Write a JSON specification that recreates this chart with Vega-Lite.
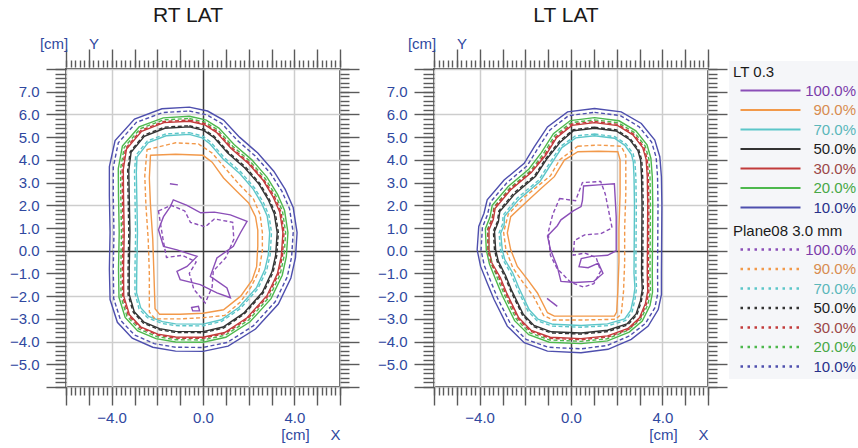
{
"$schema": "https://vega.github.io/schema/vega-lite/v6.json",
"background": "white",
"padding": {"left": 8, "top": 4, "right": 0, "bottom": 0},
"config": {
  "font": "Liberation Sans",
  "view": {"stroke": "#555555", "strokeWidth": 2},
  "axis": {"domain": false, "tickColor": "#5a5a5a", "tickWidth": 1.4, "labelFont": "Liberation Sans", "labelFontSize": 15, "labelColor": "#2f48a0", "titleFont": "Liberation Sans", "titleFontSize": 15, "titleFontWeight": "normal", "titleColor": "#2f48a0", "grid": false, "labelOverlap": false, "labelFlush": false},
  "title": {"font": "Liberation Sans", "fontSize": 21, "fontWeight": "normal", "color": "#1a1a1a"}
},
"datasets": {
"rs": [
{"l":"10.0%","x":-0.6,"y":6.32},{"l":"10.0%","x":0.2,"y":6.15},{"l":"10.0%","x":0.9,"y":5.75},{"l":"10.0%","x":1.6,"y":5.0},{"l":"10.0%","x":2.4,"y":4.3},{"l":"10.0%","x":3.1,"y":3.5},{"l":"10.0%","x":3.6,"y":2.7},{"l":"10.0%","x":3.95,"y":1.9},{"l":"10.0%","x":4.12,"y":0.8},{"l":"10.0%","x":4.05,"y":-0.3},{"l":"10.0%","x":3.85,"y":-1.2},{"l":"10.0%","x":3.3,"y":-2.35},{"l":"10.0%","x":2.3,"y":-3.45},{"l":"10.0%","x":1.1,"y":-4.2},{"l":"10.0%","x":0.0,"y":-4.43},{"l":"10.0%","x":-1.2,"y":-4.42},{"l":"10.0%","x":-2.2,"y":-4.25},{"l":"10.0%","x":-3.1,"y":-3.85},{"l":"10.0%","x":-3.75,"y":-3.15},{"l":"10.0%","x":-4.07,"y":-2.15},{"l":"10.0%","x":-4.1,"y":-0.8},{"l":"10.0%","x":-4.07,"y":0.8},{"l":"10.0%","x":-4.1,"y":2.4},{"l":"10.0%","x":-4.1,"y":3.7},{"l":"10.0%","x":-3.85,"y":4.85},{"l":"10.0%","x":-3.0,"y":5.8},{"l":"10.0%","x":-1.8,"y":6.25},
{"l":"20.0%","x":-0.6,"y":5.92},{"l":"20.0%","x":0.12,"y":5.76},{"l":"20.0%","x":0.7,"y":5.4},{"l":"20.0%","x":1.36,"y":4.68},{"l":"20.0%","x":2.14,"y":4.0},{"l":"20.0%","x":2.8,"y":3.24},{"l":"20.0%","x":3.26,"y":2.49},{"l":"20.0%","x":3.57,"y":1.78},{"l":"20.0%","x":3.72,"y":0.8},{"l":"20.0%","x":3.65,"y":-0.26},{"l":"20.0%","x":3.47,"y":-1.08},{"l":"20.0%","x":2.98,"y":-2.11},{"l":"20.0%","x":2.06,"y":-3.13},{"l":"20.0%","x":1.0,"y":-3.81},{"l":"20.0%","x":0.0,"y":-4.03},{"l":"20.0%","x":-1.2,"y":-4.02},{"l":"20.0%","x":-2.06,"y":-3.87},{"l":"20.0%","x":-2.86,"y":-3.53},{"l":"20.0%","x":-3.41,"y":-2.94},{"l":"20.0%","x":-3.68,"y":-2.05},{"l":"20.0%","x":-3.7,"y":-0.8},{"l":"20.0%","x":-3.67,"y":0.8},{"l":"20.0%","x":-3.7,"y":2.4},{"l":"20.0%","x":-3.71,"y":3.62},{"l":"20.0%","x":-3.53,"y":4.61},{"l":"20.0%","x":-2.8,"y":5.45},{"l":"20.0%","x":-1.74,"y":5.85},
{"l":"30.0%","x":-0.6,"y":5.7},{"l":"30.0%","x":0.08,"y":5.54},{"l":"30.0%","x":0.59,"y":5.21},{"l":"30.0%","x":1.23,"y":4.5},{"l":"30.0%","x":2.0,"y":3.83},{"l":"30.0%","x":2.64,"y":3.09},{"l":"30.0%","x":3.07,"y":2.37},{"l":"30.0%","x":3.36,"y":1.71},{"l":"30.0%","x":3.5,"y":0.8},{"l":"30.0%","x":3.43,"y":-0.24},{"l":"30.0%","x":3.26,"y":-1.01},{"l":"30.0%","x":2.8,"y":-1.98},{"l":"30.0%","x":1.93,"y":-2.95},{"l":"30.0%","x":0.95,"y":-3.6},{"l":"30.0%","x":0.0,"y":-3.81},{"l":"30.0%","x":-1.2,"y":-3.8},{"l":"30.0%","x":-1.98,"y":-3.67},{"l":"30.0%","x":-2.73,"y":-3.35},{"l":"30.0%","x":-3.22,"y":-2.82},{"l":"30.0%","x":-3.47,"y":-2.0},{"l":"30.0%","x":-3.48,"y":-0.8},{"l":"30.0%","x":-3.45,"y":0.8},{"l":"30.0%","x":-3.48,"y":2.4},{"l":"30.0%","x":-3.49,"y":3.58},{"l":"30.0%","x":-3.35,"y":4.48},{"l":"30.0%","x":-2.69,"y":5.26},{"l":"30.0%","x":-1.71,"y":5.64},
{"l":"50.0%","x":-0.6,"y":5.45},{"l":"50.0%","x":0.03,"y":5.3},{"l":"50.0%","x":0.47,"y":4.99},{"l":"50.0%","x":1.08,"y":4.3},{"l":"50.0%","x":1.83,"y":3.64},{"l":"50.0%","x":2.45,"y":2.93},{"l":"50.0%","x":2.86,"y":2.24},{"l":"50.0%","x":3.12,"y":1.63},{"l":"50.0%","x":3.25,"y":0.8},{"l":"50.0%","x":3.18,"y":-0.21},{"l":"50.0%","x":3.02,"y":-0.93},{"l":"50.0%","x":2.6,"y":-1.83},{"l":"50.0%","x":1.78,"y":-2.75},{"l":"50.0%","x":0.88,"y":-3.36},{"l":"50.0%","x":0.0,"y":-3.56},{"l":"50.0%","x":-1.2,"y":-3.55},{"l":"50.0%","x":-1.9,"y":-3.43},{"l":"50.0%","x":-2.58,"y":-3.15},{"l":"50.0%","x":-3.01,"y":-2.69},{"l":"50.0%","x":-3.23,"y":-1.93},{"l":"50.0%","x":-3.23,"y":-0.8},{"l":"50.0%","x":-3.2,"y":0.8},{"l":"50.0%","x":-3.23,"y":2.4},{"l":"50.0%","x":-3.25,"y":3.53},{"l":"50.0%","x":-3.15,"y":4.33},{"l":"50.0%","x":-2.57,"y":5.04},{"l":"50.0%","x":-1.67,"y":5.39},
{"l":"70.0%","x":-0.6,"y":5.12},{"l":"70.0%","x":-0.04,"y":4.97},{"l":"70.0%","x":0.3,"y":4.71},{"l":"70.0%","x":0.88,"y":4.04},{"l":"70.0%","x":1.62,"y":3.39},{"l":"70.0%","x":2.2,"y":2.71},{"l":"70.0%","x":2.58,"y":2.06},{"l":"70.0%","x":2.81,"y":1.53},{"l":"70.0%","x":2.92,"y":0.8},{"l":"70.0%","x":2.86,"y":-0.18},{"l":"70.0%","x":2.71,"y":-0.83},{"l":"70.0%","x":2.34,"y":-1.63},{"l":"70.0%","x":1.58,"y":-2.49},{"l":"70.0%","x":0.8,"y":-3.04},{"l":"70.0%","x":0.0,"y":-3.23},{"l":"70.0%","x":-1.2,"y":-3.22},{"l":"70.0%","x":-1.78,"y":-3.12},{"l":"70.0%","x":-2.38,"y":-2.89},{"l":"70.0%","x":-2.73,"y":-2.51},{"l":"70.0%","x":-2.91,"y":-1.85},{"l":"70.0%","x":-2.9,"y":-0.8},{"l":"70.0%","x":-2.87,"y":0.8},{"l":"70.0%","x":-2.9,"y":2.4},{"l":"70.0%","x":-2.92,"y":3.46},{"l":"70.0%","x":-2.89,"y":4.13},{"l":"70.0%","x":-2.4,"y":4.76},{"l":"70.0%","x":-1.62,"y":5.06},
{"l":"90.0%","x":-2.3,"y":4.2},{"l":"90.0%","x":-1.2,"y":4.25},{"l":"90.0%","x":0.0,"y":4.2},{"l":"90.0%","x":0.4,"y":3.9},{"l":"90.0%","x":0.9,"y":3.2},{"l":"90.0%","x":1.5,"y":2.6},{"l":"90.0%","x":2.0,"y":2.1},{"l":"90.0%","x":2.3,"y":1.5},{"l":"90.0%","x":2.4,"y":0.9},{"l":"90.0%","x":2.4,"y":0.2},{"l":"90.0%","x":2.35,"y":-0.7},{"l":"90.0%","x":2.15,"y":-1.3},{"l":"90.0%","x":1.65,"y":-2.0},{"l":"90.0%","x":0.9,"y":-2.6},{"l":"90.0%","x":0.0,"y":-2.75},{"l":"90.0%","x":-1.0,"y":-2.8},{"l":"90.0%","x":-1.9,"y":-2.8},{"l":"90.0%","x":-2.1,"y":-2.55},{"l":"90.0%","x":-2.15,"y":-1.0},{"l":"90.0%","x":-2.2,"y":0.5},{"l":"90.0%","x":-2.3,"y":2.0},{"l":"90.0%","x":-2.35,"y":3.2},
{"l":"100.0%","x":-1.3,"y":2.24},{"l":"100.0%","x":-0.7,"y":2.0},{"l":"100.0%","x":-0.1,"y":1.67},{"l":"100.0%","x":0.5,"y":1.7},{"l":"100.0%","x":1.2,"y":1.58},{"l":"100.0%","x":1.93,"y":1.29},{"l":"100.0%","x":1.64,"y":0.79},{"l":"100.0%","x":1.33,"y":0.19},{"l":"100.0%","x":0.61,"y":-0.32},{"l":"100.0%","x":0.32,"y":-1.13},{"l":"100.0%","x":1.05,"y":-1.64},{"l":"100.0%","x":1.2,"y":-2.07},{"l":"100.0%","x":0.61,"y":-1.86},{"l":"100.0%","x":-0.12,"y":-1.49},{"l":"100.0%","x":-1.0,"y":-1.27},{"l":"100.0%","x":-1.14,"y":-0.91},{"l":"100.0%","x":-0.7,"y":-0.69},{"l":"100.0%","x":-0.26,"y":-0.25},{"l":"100.0%","x":-1.14,"y":0.04},{"l":"100.0%","x":-1.73,"y":0.19},{"l":"100.0%","x":-1.95,"y":0.92},{"l":"100.0%","x":-1.73,"y":1.5},{"l":"100.0%","x":-1.43,"y":1.94},
{"l":"100.0%","g":1,"x":-1.45,"y":2.95},{"l":"100.0%","g":1,"x":-1.1,"y":2.9},
{"l":"100.0%","g":2,"x":-0.5,"y":-2.5},{"l":"100.0%","g":2,"x":-0.2,"y":-2.45},{"l":"100.0%","g":2,"x":-0.15,"y":-2.65},{"l":"100.0%","g":2,"x":-0.45,"y":-2.65}
],
"rd": [
{"m":10,"x":-0.6,"y":6.15},{"m":10,"x":0.17,"y":5.98},{"m":10,"x":0.82,"y":5.6},{"m":10,"x":1.5,"y":4.86},{"m":10,"x":2.29,"y":4.17},{"m":10,"x":2.97,"y":3.39},{"m":10,"x":3.46,"y":2.61},{"m":10,"x":3.79,"y":1.85},{"m":10,"x":3.95,"y":0.8},{"m":10,"x":3.88,"y":-0.28},{"m":10,"x":3.69,"y":-1.15},{"m":10,"x":3.16,"y":-2.25},{"m":10,"x":2.2,"y":-3.31},{"m":10,"x":1.06,"y":-4.04},{"m":10,"x":0.0,"y":-4.26},{"m":10,"x":-1.2,"y":-4.25},{"m":10,"x":-2.14,"y":-4.09},{"m":10,"x":-3.0,"y":-3.71},{"m":10,"x":-3.61,"y":-3.06},{"m":10,"x":-3.91,"y":-2.11},{"m":10,"x":-3.93,"y":-0.8},{"m":10,"x":-3.9,"y":0.8},{"m":10,"x":-3.93,"y":2.4},{"m":10,"x":-3.93,"y":3.67},{"m":10,"x":-3.71,"y":4.75},{"m":10,"x":-2.92,"y":5.65},{"m":10,"x":-1.77,"y":6.08},
{"m":20,"x":-0.6,"y":5.82},{"m":20,"x":0.1,"y":5.66},{"m":20,"x":0.65,"y":5.32},{"m":20,"x":1.3,"y":4.6},{"m":20,"x":2.08,"y":3.92},{"m":20,"x":2.73,"y":3.17},{"m":20,"x":3.18,"y":2.44},{"m":20,"x":3.48,"y":1.75},{"m":20,"x":3.62,"y":0.8},{"m":20,"x":3.55,"y":-0.25},{"m":20,"x":3.38,"y":-1.05},{"m":20,"x":2.9,"y":-2.05},{"m":20,"x":2.0,"y":-3.05},{"m":20,"x":0.98,"y":-3.72},{"m":20,"x":0.0,"y":-3.93},{"m":20,"x":-1.2,"y":-3.92},{"m":20,"x":-2.03,"y":-3.78},{"m":20,"x":-2.8,"y":-3.45},{"m":20,"x":-3.33,"y":-2.89},{"m":20,"x":-3.59,"y":-2.03},{"m":20,"x":-3.6,"y":-0.8},{"m":20,"x":-3.57,"y":0.8},{"m":20,"x":-3.6,"y":2.4},{"m":20,"x":-3.61,"y":3.6},{"m":20,"x":-3.45,"y":4.55},{"m":20,"x":-2.75,"y":5.37},{"m":20,"x":-1.73,"y":5.76},
{"m":30,"x":-0.6,"y":5.75},{"m":30,"x":0.09,"y":5.59},{"m":30,"x":0.62,"y":5.25},{"m":30,"x":1.26,"y":4.54},{"m":30,"x":2.03,"y":3.87},{"m":30,"x":2.67,"y":3.12},{"m":30,"x":3.12,"y":2.4},{"m":30,"x":3.41,"y":1.72},{"m":30,"x":3.55,"y":0.8},{"m":30,"x":3.48,"y":-0.24},{"m":30,"x":3.31,"y":-1.02},{"m":30,"x":2.84,"y":-2.01},{"m":30,"x":1.96,"y":-2.99},{"m":30,"x":0.96,"y":-3.65},{"m":30,"x":0.0,"y":-3.86},{"m":30,"x":-1.2,"y":-3.85},{"m":30,"x":-2.0,"y":-3.71},{"m":30,"x":-2.76,"y":-3.39},{"m":30,"x":-3.27,"y":-2.85},{"m":30,"x":-3.52,"y":-2.01},{"m":30,"x":-3.53,"y":-0.8},{"m":30,"x":-3.5,"y":0.8},{"m":30,"x":-3.53,"y":2.4},{"m":30,"x":-3.54,"y":3.59},{"m":30,"x":-3.39,"y":4.51},{"m":30,"x":-2.72,"y":5.3},{"m":30,"x":-1.71,"y":5.69},
{"m":50,"x":-0.6,"y":5.5},{"m":50,"x":0.04,"y":5.35},{"m":50,"x":0.49,"y":5.04},{"m":50,"x":1.11,"y":4.34},{"m":50,"x":1.87,"y":3.68},{"m":50,"x":2.49,"y":2.96},{"m":50,"x":2.9,"y":2.27},{"m":50,"x":3.17,"y":1.65},{"m":50,"x":3.3,"y":0.8},{"m":50,"x":3.23,"y":-0.22},{"m":50,"x":3.07,"y":-0.95},{"m":50,"x":2.64,"y":-1.86},{"m":50,"x":1.81,"y":-2.79},{"m":50,"x":0.9,"y":-3.41},{"m":50,"x":0.0,"y":-3.61},{"m":50,"x":-1.2,"y":-3.6},{"m":50,"x":-1.91,"y":-3.48},{"m":50,"x":-2.61,"y":-3.19},{"m":50,"x":-3.05,"y":-2.72},{"m":50,"x":-3.28,"y":-1.95},{"m":50,"x":-3.28,"y":-0.8},{"m":50,"x":-3.25,"y":0.8},{"m":50,"x":-3.28,"y":2.4},{"m":50,"x":-3.3,"y":3.54},{"m":50,"x":-3.19,"y":4.36},{"m":50,"x":-2.59,"y":5.09},{"m":50,"x":-1.68,"y":5.44},
{"m":70,"x":-0.6,"y":5.2},{"m":70,"x":-0.02,"y":5.05},{"m":70,"x":0.34,"y":4.78},{"m":70,"x":0.93,"y":4.1},{"m":70,"x":1.67,"y":3.45},{"m":70,"x":2.26,"y":2.76},{"m":70,"x":2.65,"y":2.11},{"m":70,"x":2.89,"y":1.55},{"m":70,"x":3.0,"y":0.8},{"m":70,"x":2.94,"y":-0.19},{"m":70,"x":2.79,"y":-0.85},{"m":70,"x":2.4,"y":-1.68},{"m":70,"x":1.63,"y":-2.55},{"m":70,"x":0.82,"y":-3.11},{"m":70,"x":0.0,"y":-3.31},{"m":70,"x":-1.2,"y":-3.3},{"m":70,"x":-1.81,"y":-3.2},{"m":70,"x":-2.43,"y":-2.95},{"m":70,"x":-2.8,"y":-2.56},{"m":70,"x":-2.98,"y":-1.87},{"m":70,"x":-2.98,"y":-0.8},{"m":70,"x":-2.95,"y":0.8},{"m":70,"x":-2.98,"y":2.4},{"m":70,"x":-3.0,"y":3.48},{"m":70,"x":-2.95,"y":4.18},{"m":70,"x":-2.44,"y":4.83},{"m":70,"x":-1.63,"y":5.14},
{"m":90,"x":-2.45,"y":4.45},{"m":90,"x":-1.2,"y":4.75},{"m":90,"x":-0.2,"y":4.7},{"m":90,"x":0.4,"y":4.3},{"m":90,"x":1.0,"y":3.6},{"m":90,"x":1.6,"y":2.9},{"m":90,"x":2.2,"y":2.3},{"m":90,"x":2.5,"y":1.6},{"m":90,"x":2.6,"y":0.8},{"m":90,"x":2.6,"y":0.0},{"m":90,"x":2.45,"y":-0.9},{"m":90,"x":2.1,"y":-1.6},{"m":90,"x":1.65,"y":-2.25},{"m":90,"x":0.95,"y":-2.85},{"m":90,"x":0.0,"y":-2.95},{"m":90,"x":-1.0,"y":-3.0},{"m":90,"x":-2.1,"y":-3.0},{"m":90,"x":-2.35,"y":-2.7},{"m":90,"x":-2.35,"y":-1.0},{"m":90,"x":-2.4,"y":0.5},{"m":90,"x":-2.5,"y":2.0},{"m":90,"x":-2.55,"y":3.3},
{"m":100,"x":-1.95,"y":1.75},{"m":100,"x":-1.4,"y":2.0},{"m":100,"x":-0.8,"y":1.75},{"m":100,"x":-0.55,"y":1.25},{"m":100,"x":0.1,"y":1.05},{"m":100,"x":0.5,"y":1.4},{"m":100,"x":1.3,"y":1.25},{"m":100,"x":1.35,"y":0.5},{"m":100,"x":1.0,"y":-0.3},{"m":100,"x":0.45,"y":-0.9},{"m":100,"x":0.4,"y":-1.6},{"m":100,"x":0.1,"y":-2.3},{"m":100,"x":-0.4,"y":-1.7},{"m":100,"x":-0.6,"y":-1.0},{"m":100,"x":-0.3,"y":-0.5},{"m":100,"x":-0.9,"y":-0.2},{"m":100,"x":-1.6,"y":-0.3},{"m":100,"x":-1.75,"y":0.5}
],
"ls": [
{"l":"10.0%","x":1.03,"y":6.26},{"l":"10.0%","x":2.2,"y":6.11},{"l":"10.0%","x":3.08,"y":5.6},{"l":"10.0%","x":3.67,"y":4.87},{"l":"10.0%","x":3.89,"y":4.14},{"l":"10.0%","x":3.96,"y":3.26},{"l":"10.0%","x":3.98,"y":2.0},{"l":"10.0%","x":3.97,"y":0.5},{"l":"10.0%","x":3.96,"y":-1.0},{"l":"10.0%","x":3.96,"y":-1.93},{"l":"10.0%","x":3.82,"y":-2.59},{"l":"10.0%","x":3.38,"y":-3.32},{"l":"10.0%","x":2.64,"y":-3.9},{"l":"10.0%","x":1.62,"y":-4.34},{"l":"10.0%","x":0.44,"y":-4.49},{"l":"10.0%","x":-1.03,"y":-4.42},{"l":"10.0%","x":-2.05,"y":-4.05},{"l":"10.0%","x":-2.79,"y":-3.32},{"l":"10.0%","x":-3.37,"y":-2.15},{"l":"10.0%","x":-3.67,"y":-1.42},{"l":"10.0%","x":-3.96,"y":-0.69},{"l":"10.0%","x":-4.11,"y":0.04},{"l":"10.0%","x":-4.04,"y":1.07},{"l":"10.0%","x":-3.81,"y":1.65},{"l":"10.0%","x":-3.67,"y":2.24},{"l":"10.0%","x":-2.93,"y":3.11},{"l":"10.0%","x":-2.05,"y":3.85},{"l":"10.0%","x":-1.61,"y":4.57},{"l":"10.0%","x":-1.03,"y":5.45},{"l":"10.0%","x":-0.15,"y":6.11},
{"l":"20.0%","x":1.03,"y":5.86},{"l":"20.0%","x":2.1,"y":5.72},{"l":"20.0%","x":2.84,"y":5.28},{"l":"20.0%","x":3.33,"y":4.66},{"l":"20.0%","x":3.5,"y":4.06},{"l":"20.0%","x":3.56,"y":3.26},{"l":"20.0%","x":3.58,"y":2.0},{"l":"20.0%","x":3.57,"y":0.5},{"l":"20.0%","x":3.56,"y":-1.0},{"l":"20.0%","x":3.57,"y":-1.83},{"l":"20.0%","x":3.46,"y":-2.41},{"l":"20.0%","x":3.12,"y":-3.1},{"l":"20.0%","x":2.55,"y":-3.58},{"l":"20.0%","x":1.6,"y":-3.97},{"l":"20.0%","x":0.44,"y":-4.09},{"l":"20.0%","x":-0.95,"y":-4.03},{"l":"20.0%","x":-1.85,"y":-3.7},{"l":"20.0%","x":-2.47,"y":-3.08},{"l":"20.0%","x":-3.01,"y":-1.97},{"l":"20.0%","x":-3.3,"y":-1.27},{"l":"20.0%","x":-3.57,"y":-0.59},{"l":"20.0%","x":-3.71,"y":0.04},{"l":"20.0%","x":-3.75,"y":0.97},{"l":"20.0%","x":-3.55,"y":1.47},{"l":"20.0%","x":-3.45,"y":2.0},{"l":"20.0%","x":-2.75,"y":2.83},{"l":"20.0%","x":-1.85,"y":3.59},{"l":"20.0%","x":-1.29,"y":4.33},{"l":"20.0%","x":-0.77,"y":5.15},{"l":"20.0%","x":-0.03,"y":5.73},
{"l":"30.0%","x":1.03,"y":5.64},{"l":"30.0%","x":2.05,"y":5.51},{"l":"30.0%","x":2.71,"y":5.1},{"l":"30.0%","x":3.14,"y":4.54},{"l":"30.0%","x":3.29,"y":4.02},{"l":"30.0%","x":3.34,"y":3.26},{"l":"30.0%","x":3.36,"y":2.0},{"l":"30.0%","x":3.35,"y":0.5},{"l":"30.0%","x":3.34,"y":-1.0},{"l":"30.0%","x":3.36,"y":-1.78},{"l":"30.0%","x":3.26,"y":-2.32},{"l":"30.0%","x":3.0,"y":-2.95},{"l":"30.0%","x":2.5,"y":-3.42},{"l":"30.0%","x":1.6,"y":-3.75},{"l":"30.0%","x":0.44,"y":-3.87},{"l":"30.0%","x":-0.91,"y":-3.81},{"l":"30.0%","x":-1.74,"y":-3.51},{"l":"30.0%","x":-2.29,"y":-2.95},{"l":"30.0%","x":-2.81,"y":-1.88},{"l":"30.0%","x":-3.09,"y":-1.19},{"l":"30.0%","x":-3.46,"y":-0.54},{"l":"30.0%","x":-3.59,"y":0.04},{"l":"30.0%","x":-3.59,"y":0.92},{"l":"30.0%","x":-3.4,"y":1.38},{"l":"30.0%","x":-3.32,"y":1.87},{"l":"30.0%","x":-2.65,"y":2.67},{"l":"30.0%","x":-1.74,"y":3.44},{"l":"30.0%","x":-1.11,"y":4.2},{"l":"30.0%","x":-0.63,"y":4.98},{"l":"30.0%","x":0.04,"y":5.52},
{"l":"50.0%","x":1.03,"y":5.39},{"l":"50.0%","x":1.98,"y":5.27},{"l":"50.0%","x":2.56,"y":4.9},{"l":"50.0%","x":2.93,"y":4.41},{"l":"50.0%","x":3.05,"y":3.97},{"l":"50.0%","x":3.09,"y":3.26},{"l":"50.0%","x":3.11,"y":2.0},{"l":"50.0%","x":3.1,"y":0.5},{"l":"50.0%","x":3.09,"y":-1.0},{"l":"50.0%","x":3.12,"y":-1.71},{"l":"50.0%","x":3.04,"y":-2.21},{"l":"50.0%","x":2.85,"y":-2.78},{"l":"50.0%","x":2.45,"y":-3.22},{"l":"50.0%","x":1.6,"y":-3.5},{"l":"50.0%","x":0.44,"y":-3.62},{"l":"50.0%","x":-0.86,"y":-3.57},{"l":"50.0%","x":-1.62,"y":-3.29},{"l":"50.0%","x":-2.09,"y":-2.8},{"l":"50.0%","x":-2.59,"y":-1.77},{"l":"50.0%","x":-2.86,"y":-1.1},{"l":"50.0%","x":-3.18,"y":-0.47},{"l":"50.0%","x":-3.3,"y":0.04},{"l":"50.0%","x":-3.35,"y":0.85},{"l":"50.0%","x":-3.18,"y":1.27},{"l":"50.0%","x":-3.12,"y":1.72},{"l":"50.0%","x":-2.47,"y":2.49},{"l":"50.0%","x":-1.55,"y":3.28},{"l":"50.0%","x":-1.05,"y":4.05},{"l":"50.0%","x":-0.46,"y":4.79},{"l":"50.0%","x":0.11,"y":5.28},
{"l":"70.0%","x":1.03,"y":5.06},{"l":"70.0%","x":1.9,"y":4.95},{"l":"70.0%","x":2.36,"y":4.64},{"l":"70.0%","x":2.65,"y":4.23},{"l":"70.0%","x":2.73,"y":3.9},{"l":"70.0%","x":2.76,"y":3.26},{"l":"70.0%","x":2.78,"y":2.0},{"l":"70.0%","x":2.77,"y":0.5},{"l":"70.0%","x":2.76,"y":-1.0},{"l":"70.0%","x":2.8,"y":-1.63},{"l":"70.0%","x":2.74,"y":-2.06},{"l":"70.0%","x":2.62,"y":-2.62},{"l":"70.0%","x":2.35,"y":-3.0},{"l":"70.0%","x":1.6,"y":-3.22},{"l":"70.0%","x":0.44,"y":-3.29},{"l":"70.0%","x":-0.79,"y":-3.24},{"l":"70.0%","x":-1.45,"y":-3.01},{"l":"70.0%","x":-1.83,"y":-2.6},{"l":"70.0%","x":-2.29,"y":-1.62},{"l":"70.0%","x":-2.55,"y":-0.98},{"l":"70.0%","x":-2.9,"y":-0.39},{"l":"70.0%","x":-3.01,"y":0.04},{"l":"70.0%","x":-3.08,"y":0.77},{"l":"70.0%","x":-2.93,"y":1.12},{"l":"70.0%","x":-2.91,"y":1.52},{"l":"70.0%","x":-2.29,"y":2.26},{"l":"70.0%","x":-1.35,"y":3.06},{"l":"70.0%","x":-0.85,"y":3.85},{"l":"70.0%","x":-0.4,"y":4.54},{"l":"70.0%","x":0.21,"y":4.97},
{"l":"90.0%","x":0.3,"y":4.36},{"l":"90.0%","x":1.2,"y":4.38},{"l":"90.0%","x":2.05,"y":4.36},{"l":"90.0%","x":2.15,"y":4.0},{"l":"90.0%","x":2.15,"y":2.5},{"l":"90.0%","x":2.1,"y":1.0},{"l":"90.0%","x":2.1,"y":-0.5},{"l":"90.0%","x":2.05,"y":-1.8},{"l":"90.0%","x":2.0,"y":-2.7},{"l":"90.0%","x":1.9,"y":-2.88},{"l":"90.0%","x":0.5,"y":-2.88},{"l":"90.0%","x":-0.73,"y":-2.88},{"l":"90.0%","x":-1.03,"y":-2.73},{"l":"90.0%","x":-1.47,"y":-1.86},{"l":"90.0%","x":-1.9,"y":-1.27},{"l":"90.0%","x":-2.35,"y":-0.69},{"l":"90.0%","x":-2.64,"y":0.04},{"l":"90.0%","x":-2.79,"y":0.78},{"l":"90.0%","x":-2.64,"y":1.5},{"l":"90.0%","x":-1.85,"y":2.24},{"l":"90.0%","x":-1.3,"y":2.75},{"l":"90.0%","x":-0.73,"y":3.26},{"l":"90.0%","x":-0.29,"y":3.99},
{"l":"100.0%","x":0.5,"y":2.2},{"l":"100.0%","x":0.55,"y":2.85},{"l":"100.0%","x":1.2,"y":2.9},{"l":"100.0%","x":1.9,"y":2.95},{"l":"100.0%","x":1.98,"y":1.5},{"l":"100.0%","x":1.98,"y":0.0},{"l":"100.0%","x":1.6,"y":-0.2},{"l":"100.0%","x":0.9,"y":-0.25},{"l":"100.0%","x":0.45,"y":-0.35},{"l":"100.0%","x":0.35,"y":-0.7},{"l":"100.0%","x":0.75,"y":-0.75},{"l":"100.0%","x":1.2,"y":-0.55},{"l":"100.0%","x":1.4,"y":-1.0},{"l":"100.0%","x":1.0,"y":-1.35},{"l":"100.0%","x":0.2,"y":-1.4},{"l":"100.0%","x":-0.44,"y":-1.35},{"l":"100.0%","x":-0.6,"y":-0.7},{"l":"100.0%","x":-0.9,"y":0.05},{"l":"100.0%","x":-1.03,"y":0.65},{"l":"100.0%","x":-0.6,"y":1.1},{"l":"100.0%","x":-0.44,"y":1.36},{"l":"100.0%","x":0.1,"y":1.75},{"l":"100.0%","x":0.44,"y":1.94}
],
"ld": [
{"m":10,"x":1.03,"y":6.09},{"m":10,"x":2.16,"y":5.95},{"m":10,"x":2.98,"y":5.46},{"m":10,"x":3.53,"y":4.78},{"m":10,"x":3.73,"y":4.11},{"m":10,"x":3.79,"y":3.26},{"m":10,"x":3.81,"y":2.0},{"m":10,"x":3.8,"y":0.5},{"m":10,"x":3.79,"y":-1.0},{"m":10,"x":3.8,"y":-1.89},{"m":10,"x":3.67,"y":-2.52},{"m":10,"x":3.26,"y":-3.2},{"m":10,"x":2.56,"y":-3.75},{"m":10,"x":1.59,"y":-4.17},{"m":10,"x":0.44,"y":-4.32},{"m":10,"x":-1.0,"y":-4.25},{"m":10,"x":-1.97,"y":-3.9},{"m":10,"x":-2.65,"y":-3.22},{"m":10,"x":-3.22,"y":-2.08},{"m":10,"x":-3.51,"y":-1.36},{"m":10,"x":-3.8,"y":-0.65},{"m":10,"x":-3.94,"y":0.04},{"m":10,"x":-3.88,"y":1.03},{"m":10,"x":-3.66,"y":1.58},{"m":10,"x":-3.53,"y":2.14},{"m":10,"x":-2.81,"y":2.99},{"m":10,"x":-1.92,"y":3.74},{"m":10,"x":-1.47,"y":4.47},{"m":10,"x":-0.92,"y":5.32},{"m":10,"x":-0.1,"y":5.95},
{"m":20,"x":1.03,"y":5.76},{"m":20,"x":2.08,"y":5.63},{"m":20,"x":2.78,"y":5.2},{"m":20,"x":3.25,"y":4.61},{"m":20,"x":3.41,"y":4.04},{"m":20,"x":3.46,"y":3.26},{"m":20,"x":3.48,"y":2.0},{"m":20,"x":3.47,"y":0.5},{"m":20,"x":3.46,"y":-1.0},{"m":20,"x":3.48,"y":-1.81},{"m":20,"x":3.37,"y":-2.37},{"m":20,"x":3.05,"y":-3.03},{"m":20,"x":2.5,"y":-3.5},{"m":20,"x":1.58,"y":-3.88},{"m":20,"x":0.44,"y":-3.99},{"m":20,"x":-0.93,"y":-3.93},{"m":20,"x":-1.8,"y":-3.62},{"m":20,"x":-2.39,"y":-3.02},{"m":20,"x":-2.92,"y":-1.93},{"m":20,"x":-3.21,"y":-1.24},{"m":20,"x":-3.48,"y":-0.57},{"m":20,"x":-3.61,"y":0.04},{"m":20,"x":-3.66,"y":0.95},{"m":20,"x":-3.46,"y":1.43},{"m":20,"x":-3.37,"y":1.94},{"m":20,"x":-2.68,"y":2.76},{"m":20,"x":-1.78,"y":3.52},{"m":20,"x":-1.21,"y":4.27},{"m":20,"x":-0.71,"y":5.07},{"m":20,"x":0.0,"y":5.64},
{"m":30,"x":1.03,"y":5.69},{"m":30,"x":2.06,"y":5.56},{"m":30,"x":2.74,"y":5.14},{"m":30,"x":3.19,"y":4.57},{"m":30,"x":3.34,"y":4.03},{"m":30,"x":3.39,"y":3.26},{"m":30,"x":3.41,"y":2.0},{"m":30,"x":3.4,"y":0.5},{"m":30,"x":3.39,"y":-1.0},{"m":30,"x":3.41,"y":-1.79},{"m":30,"x":3.31,"y":-2.34},{"m":30,"x":3.03,"y":-2.99},{"m":30,"x":2.53,"y":-3.46},{"m":30,"x":1.62,"y":-3.8},{"m":30,"x":0.44,"y":-3.92},{"m":30,"x":-0.92,"y":-3.86},{"m":30,"x":-1.77,"y":-3.55},{"m":30,"x":-2.33,"y":-2.98},{"m":30,"x":-2.86,"y":-1.9},{"m":30,"x":-3.14,"y":-1.21},{"m":30,"x":-3.51,"y":-0.55},{"m":30,"x":-3.64,"y":0.04},{"m":30,"x":-3.64,"y":0.93},{"m":30,"x":-3.45,"y":1.4},{"m":30,"x":-3.36,"y":1.9},{"m":30,"x":-2.68,"y":2.71},{"m":30,"x":-1.77,"y":3.47},{"m":30,"x":-1.15,"y":4.23},{"m":30,"x":-0.66,"y":5.02},{"m":30,"x":0.02,"y":5.57},
{"m":50,"x":1.03,"y":5.44},{"m":50,"x":2.0,"y":5.32},{"m":50,"x":2.59,"y":4.94},{"m":50,"x":2.97,"y":4.44},{"m":50,"x":3.1,"y":3.98},{"m":50,"x":3.14,"y":3.26},{"m":50,"x":3.16,"y":2.0},{"m":50,"x":3.15,"y":0.5},{"m":50,"x":3.14,"y":-1.0},{"m":50,"x":3.17,"y":-1.73},{"m":50,"x":3.08,"y":-2.23},{"m":50,"x":2.89,"y":-2.82},{"m":50,"x":2.48,"y":-3.27},{"m":50,"x":1.62,"y":-3.56},{"m":50,"x":0.44,"y":-3.67},{"m":50,"x":-0.87,"y":-3.62},{"m":50,"x":-1.64,"y":-3.34},{"m":50,"x":-2.13,"y":-2.83},{"m":50,"x":-2.63,"y":-1.79},{"m":50,"x":-2.91,"y":-1.12},{"m":50,"x":-3.23,"y":-0.49},{"m":50,"x":-3.35,"y":0.04},{"m":50,"x":-3.4,"y":0.87},{"m":50,"x":-3.22,"y":1.29},{"m":50,"x":-3.16,"y":1.75},{"m":50,"x":-2.51,"y":2.53},{"m":50,"x":-1.59,"y":3.31},{"m":50,"x":-1.09,"y":4.08},{"m":50,"x":-0.5,"y":4.83},{"m":50,"x":0.1,"y":5.33},
{"m":70,"x":1.03,"y":5.14},{"m":70,"x":1.92,"y":5.02},{"m":70,"x":2.41,"y":4.7},{"m":70,"x":2.72,"y":4.28},{"m":70,"x":2.8,"y":3.92},{"m":70,"x":2.84,"y":3.26},{"m":70,"x":2.86,"y":2.0},{"m":70,"x":2.85,"y":0.5},{"m":70,"x":2.84,"y":-1.0},{"m":70,"x":2.87,"y":-1.65},{"m":70,"x":2.81,"y":-2.1},{"m":70,"x":2.68,"y":-2.68},{"m":70,"x":2.4,"y":-3.07},{"m":70,"x":1.62,"y":-3.3},{"m":70,"x":0.44,"y":-3.37},{"m":70,"x":-0.81,"y":-3.32},{"m":70,"x":-1.49,"y":-3.08},{"m":70,"x":-1.89,"y":-2.65},{"m":70,"x":-2.36,"y":-1.66},{"m":70,"x":-2.63,"y":-1.01},{"m":70,"x":-2.97,"y":-0.41},{"m":70,"x":-3.09,"y":0.04},{"m":70,"x":-3.15,"y":0.79},{"m":70,"x":-3.0,"y":1.16},{"m":70,"x":-2.97,"y":1.57},{"m":70,"x":-2.35,"y":2.32},{"m":70,"x":-1.41,"y":3.11},{"m":70,"x":-0.91,"y":3.9},{"m":70,"x":-0.45,"y":4.6},{"m":70,"x":0.19,"y":5.05},
{"m":90,"x":0.3,"y":4.6},{"m":90,"x":1.2,"y":4.65},{"m":90,"x":2.2,"y":4.6},{"m":90,"x":2.4,"y":4.2},{"m":90,"x":2.4,"y":2.5},{"m":90,"x":2.35,"y":1.0},{"m":90,"x":2.35,"y":-0.5},{"m":90,"x":2.3,"y":-1.8},{"m":90,"x":2.2,"y":-2.8},{"m":90,"x":1.95,"y":-3.02},{"m":90,"x":0.5,"y":-3.05},{"m":90,"x":-0.8,"y":-3.05},{"m":90,"x":-1.2,"y":-2.85},{"m":90,"x":-1.65,"y":-2.0},{"m":90,"x":-2.1,"y":-1.4},{"m":90,"x":-2.55,"y":-0.75},{"m":90,"x":-2.85,"y":0.05},{"m":90,"x":-2.95,"y":0.8},{"m":90,"x":-2.75,"y":1.6},{"m":90,"x":-2.05,"y":2.35},{"m":90,"x":-1.45,"y":2.85},{"m":90,"x":-0.9,"y":3.3},{"m":90,"x":-0.5,"y":4.0},
{"m":100,"x":-0.5,"y":2.3},{"m":100,"x":0.2,"y":2.2},{"m":100,"x":0.5,"y":3.0},{"m":100,"x":1.3,"y":3.05},{"m":100,"x":1.5,"y":2.5},{"m":100,"x":1.8,"y":1.0},{"m":100,"x":1.3,"y":0.75},{"m":100,"x":0.6,"y":0.7},{"m":100,"x":0.15,"y":0.45},{"m":100,"x":0.1,"y":-0.2},{"m":100,"x":0.6,"y":-0.1},{"m":100,"x":1.1,"y":-0.3},{"m":100,"x":1.3,"y":-0.9},{"m":100,"x":1.0,"y":-1.45},{"m":100,"x":0.55,"y":-1.6},{"m":100,"x":0.0,"y":-1.4},{"m":100,"x":-0.6,"y":-0.8},{"m":100,"x":-0.9,"y":-0.2},{"m":100,"x":-1.0,"y":0.8},{"m":100,"x":-0.8,"y":1.6},
{"m":100,"g":1,"x":-1.05,"y":-2.1},{"m":100,"g":1,"x":-0.6,"y":-2.45}
]
},
"hconcat": [
{
 "width": 274, "height": 318,
 "title": {"text": "RT LAT", "dx": -15, "offset": 10},
 "layer": [
  {"data": {"name": "rs"},
   "mark": {"type": "line", "interpolate": "linear-closed", "strokeWidth": 1.4},
   "encoding": {
    "x": {"field": "x", "type": "quantitative", "scale": {"domain": [-6, 6], "nice": false, "zero": false},
      "axis": {"orient": "bottom", "values": [-6,-5,-4,-3,-2,-1,0,1,2,3,4,5,6], "tickSize": 18, "labelExpr": "datum.value % 4 == 0 ? format(datum.value, '.1f') : ''", "labelPadding": 5, "grid": true, "gridColor": {"condition": {"test": "datum.value == 0", "value": "#3c3c3c"}, "value": "#cdcdcd"}, "gridOpacity": {"condition": {"test": "datum.value % 2 != 0", "value": 0}, "value": 1}, "gridWidth": 1.5, "title": "[cm]\u00a0\u00a0\u00a0\u00a0\u00a0X", "titleAnchor": "end", "titleAlign": "right", "titlePadding": 2}},
    "y": {"field": "y", "type": "quantitative", "scale": {"domain": [-6, 8], "nice": false, "zero": false},
      "axis": {"orient": "left", "values": [-6,-5,-4,-3,-2,-1,0,1,2,3,4,5,6,7,8], "tickSize": 20, "labelExpr": "datum.value >= -5 && datum.value <= 7 ? format(datum.value, '.1f') : ''", "labelPadding": 7, "grid": true, "gridColor": {"condition": {"test": "datum.value == 0", "value": "#3c3c3c"}, "value": "#cdcdcd"}, "gridOpacity": {"condition": {"test": "datum.value % 2 != 0", "value": 0}, "value": 1}, "gridWidth": 1.5, "title": "[cm]\u00a0\u00a0\u00a0\u00a0\u00a0Y", "titleAngle": 0, "titleX": 3, "titleY": -21, "titleAlign": "center", "titleBaseline": "alphabetic"}},
    "color": {"field": "l", "type": "nominal", "scale": {"domain": ["100.0%","90.0%","70.0%","50.0%","30.0%","20.0%","10.0%"], "range": ["#8b4fb8","#f2994a","#5cc6c9","#333333","#c23b3b","#4db84d","#4e4fae"]},
      "legend": {"title": "LT 0.3", "orient": "none", "legendX": 663, "legendY": -8, "padding": 4, "fillColor": "#f5f6f9", "symbolType": "M0,0H12", "symbolSize": 100, "symbolStrokeWidth": 2, "labelAlign": "right", "labelOffset": 108, "labelFontSize": 15, "labelFont": "Liberation Sans", "titleFontSize": 15, "titleFontWeight": "normal", "titleColor": "#1a1a1a", "titleFont": "Liberation Sans", "rowPadding": 3.5, "titlePadding": 3,
        "encode": {"labels": {"update": {"fill": {"signal": "['#7b3caa','#d88c50','#5ab7ba','#1c1c1c','#9b4747','#47a847','#27308a'][indexof(['100.0%','90.0%','70.0%','50.0%','30.0%','20.0%','10.0%'], datum.value)]"}}}}}},
    "detail": {"field": "g"},
    "order": {"value": null}
   }},
  {"data": {"name": "rd"},
   "mark": {"type": "line", "interpolate": "linear-closed", "strokeWidth": 1.4, "strokeDash": [4, 2.5]},
   "encoding": {
    "x": {"field": "x", "type": "quantitative", "scale": {"domain": [-6, 6], "nice": false, "zero": false},
      "axis": {"orient": "top", "values": [-6,-5,-4,-3,-2,-1,0,1,2,3,4,5,6], "tickSize": 18, "labels": false, "title": null, "offset": 2}},
    "y": {"field": "y", "type": "quantitative", "scale": {"domain": [-6, 8], "nice": false, "zero": false},
      "axis": {"orient": "right", "values": [-6,-5,-4,-3,-2,-1,0,1,2,3,4,5,6,7,8], "tickSize": 19, "labels": false, "title": null}},
    "stroke": {"field": "m", "type": "nominal", "scale": {"domain": [100,90,70,50,30,20,10], "range": ["#8b4fb8","#f2994a","#5cc6c9","#333333","#c23b3b","#4db84d","#4e4fae"]},
      "legend": {"title": "Plane08 3.0 mm", "orient": "none", "legendX": 663, "legendY": 151, "padding": 4, "fillColor": "#f5f6f9", "symbolType": "M0,0H12", "symbolSize": 100, "symbolStrokeWidth": 2.5, "symbolDash": [2.5, 4.5], "labelAlign": "right", "labelOffset": 108, "labelExpr": "format(datum.value, '.1f') + '%'", "labelFontSize": 15, "labelFont": "Liberation Sans", "titleFontSize": 15, "titleFontWeight": "normal", "titleColor": "#1a1a1a", "titleFont": "Liberation Sans", "rowPadding": 3.5, "titlePadding": 3,
        "encode": {"labels": {"update": {"fill": {"signal": "['#7b3caa','#d88c50','#5ab7ba','#1c1c1c','#9b4747','#47a847','#27308a'][indexof([100,90,70,50,30,20,10], datum.value)]"}}}}}},
    "detail": {"field": "g"},
    "order": {"value": null}
   }},
  {"data": {"values": []},
   "mark": {"type": "point", "opacity": 0},
   "encoding": {
    "x": {"field": "x", "type": "quantitative", "scale": {"domain": [-6, 6], "nice": false, "zero": false},
      "axis": {"orient": "bottom", "values": [-6,-5.8,-5.6,-5.4,-5.2,-5,-4.8,-4.6,-4.4,-4.2,-4,-3.8,-3.6,-3.4,-3.2,-3,-2.8,-2.6,-2.4,-2.2,-2,-1.8,-1.6,-1.4,-1.2,-1,-0.8,-0.6,-0.4,-0.2,0,0.2,0.4,0.6,0.8,1,1.2,1.4,1.6,1.8,2,2.2,2.4,2.6,2.8,3,3.2,3.4,3.6,3.8,4,4.2,4.4,4.6,4.8,5,5.2,5.4,5.6,5.8,6], "tickSize": 8, "labels": false, "title": null}},
    "y": {"field": "y", "type": "quantitative", "scale": {"domain": [-6, 8], "nice": false, "zero": false},
      "axis": {"orient": "left", "values": [-6,-5.8,-5.6,-5.4,-5.2,-5,-4.8,-4.6,-4.4,-4.2,-4,-3.8,-3.6,-3.4,-3.2,-3,-2.8,-2.6,-2.4,-2.2,-2,-1.8,-1.6,-1.4,-1.2,-1,-0.8,-0.6,-0.4,-0.2,0,0.2,0.4,0.6,0.8,1,1.2,1.4,1.6,1.8,2,2.2,2.4,2.6,2.8,3,3.2,3.4,3.6,3.8,4,4.2,4.4,4.6,4.8,5,5.2,5.4,5.6,5.8,6,6.2,6.4,6.6,6.8,7,7.2,7.4,7.6,7.8,8], "tickSize": 11, "labels": false, "title": null}}
   }},
  {"data": {"values": []},
   "mark": {"type": "point", "opacity": 0},
   "encoding": {
    "x": {"field": "x", "type": "quantitative", "scale": {"domain": [-6, 6], "nice": false, "zero": false},
      "axis": {"orient": "top", "values": [-6,-5.8,-5.6,-5.4,-5.2,-5,-4.8,-4.6,-4.4,-4.2,-4,-3.8,-3.6,-3.4,-3.2,-3,-2.8,-2.6,-2.4,-2.2,-2,-1.8,-1.6,-1.4,-1.2,-1,-0.8,-0.6,-0.4,-0.2,0,0.2,0.4,0.6,0.8,1,1.2,1.4,1.6,1.8,2,2.2,2.4,2.6,2.8,3,3.2,3.4,3.6,3.8,4,4.2,4.4,4.6,4.8,5,5.2,5.4,5.6,5.8,6], "tickSize": 7, "labels": false, "title": null, "offset": 2}},
    "y": {"field": "y", "type": "quantitative", "scale": {"domain": [-6, 8], "nice": false, "zero": false},
      "axis": {"orient": "right", "values": [-6,-5.8,-5.6,-5.4,-5.2,-5,-4.8,-4.6,-4.4,-4.2,-4,-3.8,-3.6,-3.4,-3.2,-3,-2.8,-2.6,-2.4,-2.2,-2,-1.8,-1.6,-1.4,-1.2,-1,-0.8,-0.6,-0.4,-0.2,0,0.2,0.4,0.6,0.8,1,1.2,1.4,1.6,1.8,2,2.2,2.4,2.6,2.8,3,3.2,3.4,3.6,3.8,4,4.2,4.4,4.6,4.8,5,5.2,5.4,5.6,5.8,6,6.2,6.4,6.6,6.8,7,7.2,7.4,7.6,7.8,8], "tickSize": 9, "labels": false, "title": null}}
   }}
 ],
 "resolve": {"axis": {"x": "independent", "y": "independent"}}
},
{
 "width": 274, "height": 318,
 "title": {"text": "LT LAT", "dx": -5, "offset": 10},
 "layer": [
  {"data": {"name": "ls"},
   "mark": {"type": "line", "interpolate": "linear-closed", "strokeWidth": 1.4},
   "encoding": {
    "x": {"field": "x", "type": "quantitative", "scale": {"domain": [-6, 6], "nice": false, "zero": false},
      "axis": {"orient": "bottom", "values": [-6,-5,-4,-3,-2,-1,0,1,2,3,4,5,6], "tickSize": 18, "labelExpr": "datum.value % 4 == 0 ? format(datum.value, '.1f') : ''", "labelPadding": 5, "grid": true, "gridColor": {"condition": {"test": "datum.value == 0", "value": "#3c3c3c"}, "value": "#cdcdcd"}, "gridOpacity": {"condition": {"test": "datum.value % 2 != 0", "value": 0}, "value": 1}, "gridWidth": 1.5, "title": "[cm]\u00a0\u00a0\u00a0\u00a0\u00a0X", "titleAnchor": "end", "titleAlign": "right", "titlePadding": 2}},
    "y": {"field": "y", "type": "quantitative", "scale": {"domain": [-6, 8], "nice": false, "zero": false},
      "axis": {"orient": "left", "values": [-6,-5,-4,-3,-2,-1,0,1,2,3,4,5,6,7,8], "tickSize": 20, "labelExpr": "datum.value >= -5 && datum.value <= 7 ? format(datum.value, '.1f') : ''", "labelPadding": 7, "grid": true, "gridColor": {"condition": {"test": "datum.value == 0", "value": "#3c3c3c"}, "value": "#cdcdcd"}, "gridOpacity": {"condition": {"test": "datum.value % 2 != 0", "value": 0}, "value": 1}, "gridWidth": 1.5, "title": "[cm]\u00a0\u00a0\u00a0\u00a0\u00a0Y", "titleAngle": 0, "titleX": 3, "titleY": -21, "titleAlign": "center", "titleBaseline": "alphabetic"}},
    "color": {"field": "l", "type": "nominal", "scale": {"domain": ["100.0%","90.0%","70.0%","50.0%","30.0%","20.0%","10.0%"], "range": ["#8b4fb8","#f2994a","#5cc6c9","#333333","#c23b3b","#4db84d","#4e4fae"]}},
    "detail": {"field": "g"},
    "order": {"value": null}
   }},
  {"data": {"name": "ld"},
   "mark": {"type": "line", "interpolate": "linear-closed", "strokeWidth": 1.4, "strokeDash": [4, 2.5]},
   "encoding": {
    "x": {"field": "x", "type": "quantitative", "scale": {"domain": [-6, 6], "nice": false, "zero": false},
      "axis": {"orient": "top", "values": [-6,-5,-4,-3,-2,-1,0,1,2,3,4,5,6], "tickSize": 18, "labels": false, "title": null, "offset": 2}},
    "y": {"field": "y", "type": "quantitative", "scale": {"domain": [-6, 8], "nice": false, "zero": false},
      "axis": {"orient": "right", "values": [-6,-5,-4,-3,-2,-1,0,1,2,3,4,5,6,7,8], "tickSize": 19, "labels": false, "title": null}},
    "stroke": {"field": "m", "type": "nominal", "scale": {"domain": [100,90,70,50,30,20,10], "range": ["#8b4fb8","#f2994a","#5cc6c9","#333333","#c23b3b","#4db84d","#4e4fae"]}},
    "detail": {"field": "g"},
    "order": {"value": null}
   }},
  {"data": {"values": []},
   "mark": {"type": "point", "opacity": 0},
   "encoding": {
    "x": {"field": "x", "type": "quantitative", "scale": {"domain": [-6, 6], "nice": false, "zero": false},
      "axis": {"orient": "bottom", "values": [-6,-5.8,-5.6,-5.4,-5.2,-5,-4.8,-4.6,-4.4,-4.2,-4,-3.8,-3.6,-3.4,-3.2,-3,-2.8,-2.6,-2.4,-2.2,-2,-1.8,-1.6,-1.4,-1.2,-1,-0.8,-0.6,-0.4,-0.2,0,0.2,0.4,0.6,0.8,1,1.2,1.4,1.6,1.8,2,2.2,2.4,2.6,2.8,3,3.2,3.4,3.6,3.8,4,4.2,4.4,4.6,4.8,5,5.2,5.4,5.6,5.8,6], "tickSize": 8, "labels": false, "title": null}},
    "y": {"field": "y", "type": "quantitative", "scale": {"domain": [-6, 8], "nice": false, "zero": false},
      "axis": {"orient": "left", "values": [-6,-5.8,-5.6,-5.4,-5.2,-5,-4.8,-4.6,-4.4,-4.2,-4,-3.8,-3.6,-3.4,-3.2,-3,-2.8,-2.6,-2.4,-2.2,-2,-1.8,-1.6,-1.4,-1.2,-1,-0.8,-0.6,-0.4,-0.2,0,0.2,0.4,0.6,0.8,1,1.2,1.4,1.6,1.8,2,2.2,2.4,2.6,2.8,3,3.2,3.4,3.6,3.8,4,4.2,4.4,4.6,4.8,5,5.2,5.4,5.6,5.8,6,6.2,6.4,6.6,6.8,7,7.2,7.4,7.6,7.8,8], "tickSize": 11, "labels": false, "title": null}}
   }},
  {"data": {"values": []},
   "mark": {"type": "point", "opacity": 0},
   "encoding": {
    "x": {"field": "x", "type": "quantitative", "scale": {"domain": [-6, 6], "nice": false, "zero": false},
      "axis": {"orient": "top", "values": [-6,-5.8,-5.6,-5.4,-5.2,-5,-4.8,-4.6,-4.4,-4.2,-4,-3.8,-3.6,-3.4,-3.2,-3,-2.8,-2.6,-2.4,-2.2,-2,-1.8,-1.6,-1.4,-1.2,-1,-0.8,-0.6,-0.4,-0.2,0,0.2,0.4,0.6,0.8,1,1.2,1.4,1.6,1.8,2,2.2,2.4,2.6,2.8,3,3.2,3.4,3.6,3.8,4,4.2,4.4,4.6,4.8,5,5.2,5.4,5.6,5.8,6], "tickSize": 7, "labels": false, "title": null, "offset": 2}},
    "y": {"field": "y", "type": "quantitative", "scale": {"domain": [-6, 8], "nice": false, "zero": false},
      "axis": {"orient": "right", "values": [-6,-5.8,-5.6,-5.4,-5.2,-5,-4.8,-4.6,-4.4,-4.2,-4,-3.8,-3.6,-3.4,-3.2,-3,-2.8,-2.6,-2.4,-2.2,-2,-1.8,-1.6,-1.4,-1.2,-1,-0.8,-0.6,-0.4,-0.2,0,0.2,0.4,0.6,0.8,1,1.2,1.4,1.6,1.8,2,2.2,2.4,2.6,2.8,3,3.2,3.4,3.6,3.8,4,4.2,4.4,4.6,4.8,5,5.2,5.4,5.6,5.8,6,6.2,6.4,6.6,6.8,7,7.2,7.4,7.6,7.8,8], "tickSize": 9, "labels": false, "title": null}}
   }}
 ],
 "resolve": {"axis": {"x": "independent", "y": "independent"}}
}
],
"spacing": 15
}
